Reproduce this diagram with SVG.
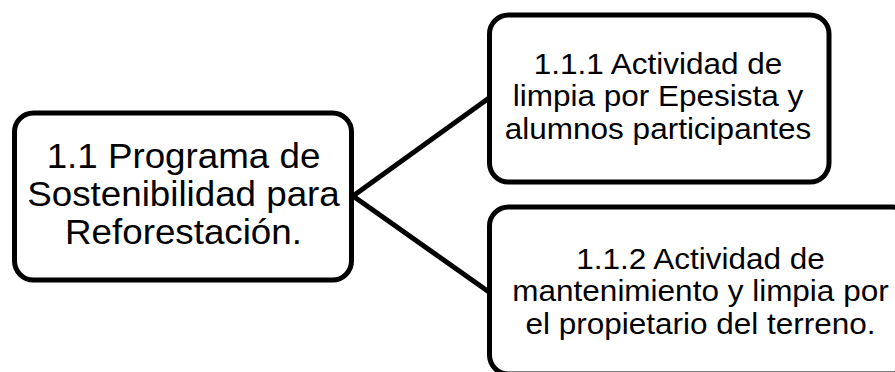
<svg xmlns="http://www.w3.org/2000/svg" width="895" height="372" viewBox="0 0 895 372">
<style>
.box{fill:#fff;stroke:#000;stroke-width:5}
.conn{stroke:#000;stroke-width:5;fill:none}
.t{font-family:"Liberation Sans",Arial,sans-serif;fill:#000;text-anchor:middle}
.big{font-size:35px}
.sm{font-size:30px}
</style>
<rect width="895" height="372" fill="#fff"/>
<g id="connectors">
<line class="conn" x1="353" y1="196" x2="489" y2="98"/>
<line class="conn" x1="353" y1="196" x2="489" y2="292"/>
</g>
<g id="node-root">
<rect class="box" x="14.5" y="113" width="337" height="167" rx="19"/>
<g transform="translate(183.5 0) scale(1.05 1)">
<text class="t big" x="0" y="168">1.1 Programa de</text>
<text class="t big" x="0" y="206">Sostenibilidad para</text>
<text class="t big" x="0" y="244">Reforestación.</text>
</g>
</g>
<g id="node-111">
<rect class="box" x="489.5" y="15" width="339.5" height="167" rx="19"/>
<g transform="translate(658 0) scale(1.05 1)">
<text class="t sm" x="0" y="74">1.1.1 Actividad de</text>
<text class="t sm" x="0" y="106.5">limpia por Epesista y</text>
<text class="t sm" x="0" y="139">alumnos participantes</text>
</g>
</g>
<g id="node-112">
<rect class="box" x="489.5" y="207" width="422" height="167" rx="19"/>
<g transform="translate(700.5 0) scale(1.05 1)">
<text class="t sm" x="0" y="269">1.1.2 Actividad de</text>
<text class="t sm" x="0" y="301.5">mantenimiento y limpia por</text>
<text class="t sm" x="0" y="334">el propietario del terreno.</text>
</g>
</g>
</svg>
